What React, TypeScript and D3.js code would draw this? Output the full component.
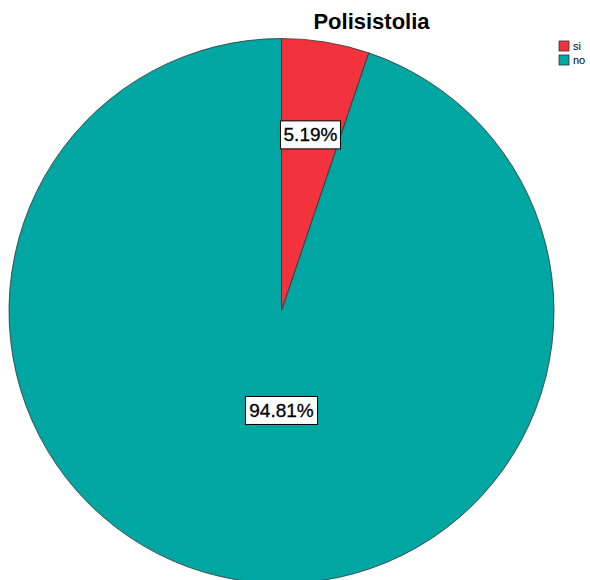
import React from "react";
import * as d3 from "d3";

const categories = ["si", "no"];
const percents = [5.19, 94.81];
const colors = ["#F2333D", "#00A6A2"];
const title = "Polisistolia";

const W = 590;
const H = 580;

export default function App() {
  const cx = 281.5;
  const cy = 311;
  const r = 272.5;

  const data = categories.map((c, i) => ({ name: c, value: percents[i], color: colors[i] }));
  const pie = d3.pie<any>().sort(null).value((d) => d.value);
  const arcs = pie(data);
  const arc = d3.arc<any>().innerRadius(0).outerRadius(r);

  const labelPos = (a: any, i: number) => {
    const mid = (a.startAngle + a.endAngle) / 2;
    if (i === 0) {
      const lr = r * 0.655;
      return [Math.sin(mid) * lr, -Math.cos(mid) * lr];
    }
    return [0, r * 0.365];
  };

  return (
    <svg width={W} height={H} style={{ position: "absolute", left: 0, top: 0, fontFamily: "Liberation Sans, Arial, sans-serif" }}>
      <rect width={W} height={H} fill="#fff" />
      <text x={371.5} y={29} textAnchor="middle" fontSize={22} fontWeight="bold" fill="#000">
        {title}
      </text>
      <g transform={`translate(${cx},${cy})`}>
        {arcs.map((a, i) => (
          <path key={i} d={arc(a) as string} fill={a.data.color} stroke="#333" strokeWidth={0.8} />
        ))}
        {arcs.map((a, i) => {
          const [x, y] = labelPos(a, i);
          const txt = `${a.data.value.toFixed(2)}%`;
          const w = txt.length * 12;
          return (
            <g key={"l" + i} transform={`translate(${x},${y})`}>
              <rect x={-w / 2} y={-14} width={w} height={28} fill="#fff" stroke="#000" strokeWidth={1} />
              <text x={0} y={6.5} textAnchor="middle" fontSize={19} fill="#000" stroke="#000" strokeWidth={0.3}>
                {txt}
              </text>
            </g>
          );
        })}
      </g>
      <g transform="translate(559,41)">
        {categories.map((c, i) => (
          <g key={c} transform={`translate(0,${i * 14})`}>
            <rect x={0} y={0} width={10} height={10} fill={colors[i]} stroke="#333" strokeWidth={0.8} />
            <text x={14} y={9} fontSize={11} fill="#000">
              {c}
            </text>
          </g>
        ))}
      </g>
    </svg>
  );
}
